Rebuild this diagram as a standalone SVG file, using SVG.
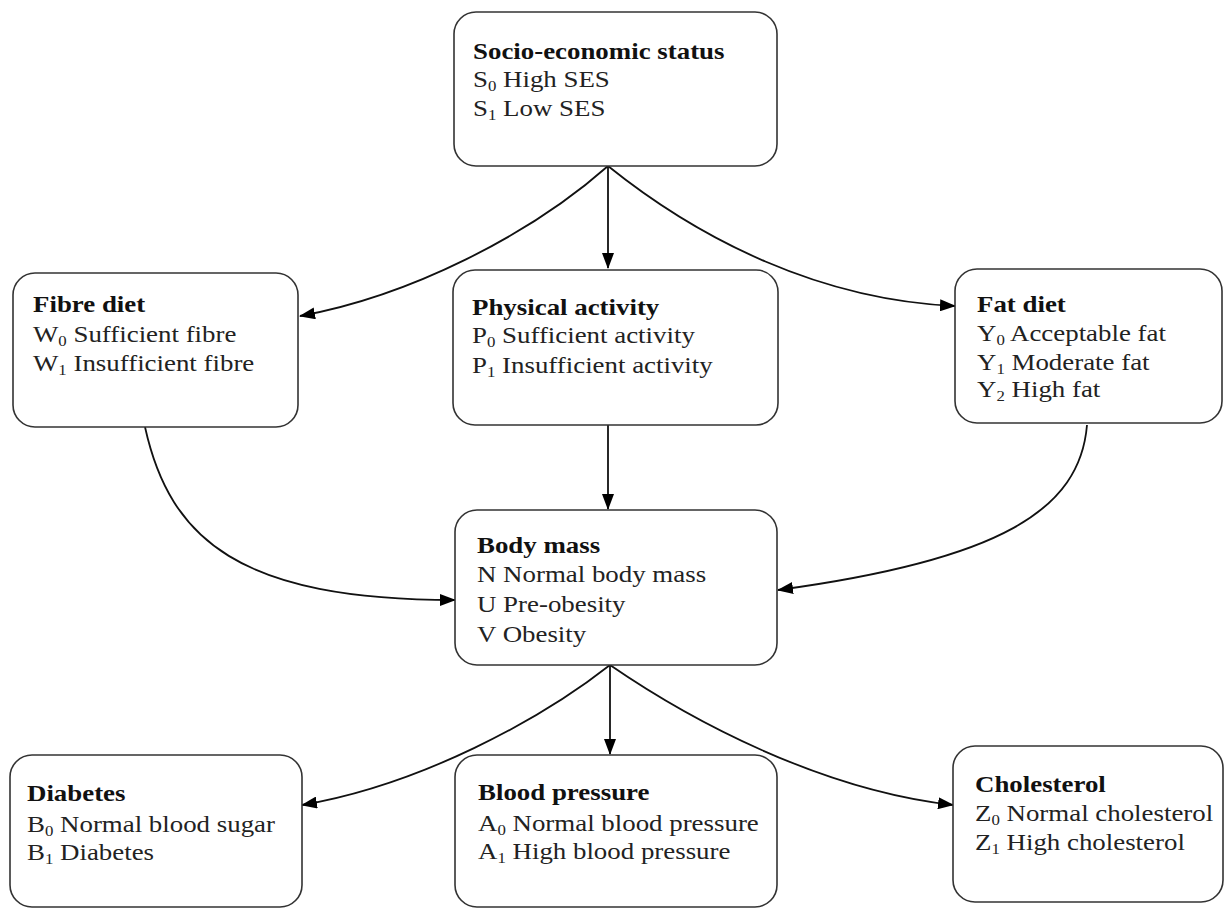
<svg xmlns="http://www.w3.org/2000/svg" width="1224" height="909" viewBox="0 0 1224 909">
<defs>
<marker id="ah" markerUnits="userSpaceOnUse" markerWidth="16" markerHeight="12" refX="15" refY="6" orient="auto">
<path d="M0,0 L16,6 L0,12 z" fill="#000"/>
</marker>
<style>
.box{fill:#fff;stroke:#333;stroke-width:1.6}
.t{font-family:"Liberation Serif","Times New Roman",serif;font-size:24px;fill:#222}
.h{font-weight:bold;fill:#111}
.sub{font-size:15px}
.c{fill:none;stroke:#111;stroke-width:1.8}
</style>
</defs>
<rect width="1224" height="909" fill="#fff"/>

<g id="connectors">
<path class="c" d="M608,166 L608,268" marker-end="url(#ah)"/>
<path class="c" d="M608,166 C530,235 410,296 300,316" marker-end="url(#ah)"/>
<path class="c" d="M608,166 C700,240 820,300 955,306" marker-end="url(#ah)"/>
<path class="c" d="M608,425 L608,509" marker-end="url(#ah)"/>
<path class="c" d="M145,427 C170,540 240,600 455,600" marker-end="url(#ah)"/>
<path class="c" d="M1087,425 C1080,510 1000,560 778,590" marker-end="url(#ah)"/>
<path class="c" d="M610,665 L610,754" marker-end="url(#ah)"/>
<path class="c" d="M610,665 C540,720 420,785 302,805" marker-end="url(#ah)"/>
<path class="c" d="M610,665 C690,720 820,790 953,805" marker-end="url(#ah)"/>
</g>

<g id="ses">
<rect class="box" x="454" y="12" width="323" height="154" rx="22"/>
<g transform="translate(473,0) scale(1.12,1)">
<text class="t h" x="0" y="59">Socio-economic status</text>
<text class="t" x="0" y="87">S<tspan class="sub" dy="4">0</tspan><tspan dy="-4"> High SES</tspan></text>
<text class="t" x="0" y="116">S<tspan class="sub" dy="4">1</tspan><tspan dy="-4"> Low SES</tspan></text>
</g>
</g>

<g id="fibre">
<rect class="box" x="13" y="273" width="285" height="154" rx="22"/>
<g transform="translate(33,0) scale(1.12,1)">
<text class="t h" x="0" y="312">Fibre diet</text>
<text class="t" x="0" y="342">W<tspan class="sub" dy="4">0</tspan><tspan dy="-4"> Sufficient fibre</tspan></text>
<text class="t" x="0" y="371">W<tspan class="sub" dy="4">1</tspan><tspan dy="-4"> Insufficient fibre</tspan></text>
</g>
</g>

<g id="activity">
<rect class="box" x="453" y="270" width="325" height="155" rx="22"/>
<g transform="translate(472,0) scale(1.12,1)">
<text class="t h" x="0" y="315">Physical activity</text>
<text class="t" x="0" y="343">P<tspan class="sub" dy="4">0</tspan><tspan dy="-4"> Sufficient activity</tspan></text>
<text class="t" x="0" y="373">P<tspan class="sub" dy="4">1</tspan><tspan dy="-4"> Insufficient activity</tspan></text>
</g>
</g>

<g id="fat">
<rect class="box" x="955" y="269" width="267" height="154" rx="22"/>
<g transform="translate(977,0) scale(1.12,1)">
<text class="t h" x="0" y="312">Fat diet</text>
<text class="t" x="0" y="341">Y<tspan class="sub" dy="4">0</tspan><tspan dy="-4"> Acceptable fat</tspan></text>
<text class="t" x="0" y="370">Y<tspan class="sub" dy="4">1</tspan><tspan dy="-4"> Moderate fat</tspan></text>
<text class="t" x="0" y="397">Y<tspan class="sub" dy="4">2</tspan><tspan dy="-4"> High fat</tspan></text>
</g>
</g>

<g id="bodymass">
<rect class="box" x="455" y="510" width="322" height="155" rx="22"/>
<g transform="translate(477,0) scale(1.12,1)">
<text class="t h" x="0" y="553">Body mass</text>
<text class="t" x="0" y="582">N Normal body mass</text>
<text class="t" x="0" y="612">U Pre-obesity</text>
<text class="t" x="0" y="642">V Obesity</text>
</g>
</g>

<g id="diabetes">
<rect class="box" x="10" y="755" width="292" height="152" rx="22"/>
<g transform="translate(27,0) scale(1.12,1)">
<text class="t h" x="0" y="801">Diabetes</text>
<text class="t" x="0" y="832">B<tspan class="sub" dy="4">0</tspan><tspan dy="-4"> Normal blood sugar</tspan></text>
<text class="t" x="0" y="860">B<tspan class="sub" dy="4">1</tspan><tspan dy="-4"> Diabetes</tspan></text>
</g>
</g>

<g id="bloodpressure">
<rect class="box" x="455" y="755" width="322" height="152" rx="22"/>
<g transform="translate(478,0) scale(1.12,1)">
<text class="t h" x="0" y="800">Blood pressure</text>
<text class="t" x="0" y="831">A<tspan class="sub" dy="4">0</tspan><tspan dy="-4"> Normal blood pressure</tspan></text>
<text class="t" x="0" y="859">A<tspan class="sub" dy="4">1</tspan><tspan dy="-4"> High blood pressure</tspan></text>
</g>
</g>

<g id="cholesterol">
<rect class="box" x="953" y="746" width="270" height="156" rx="22"/>
<g transform="translate(975,0) scale(1.12,1)">
<text class="t h" x="0" y="792">Cholesterol</text>
<text class="t" x="0" y="821">Z<tspan class="sub" dy="4">0</tspan><tspan dy="-4"> Normal cholesterol</tspan></text>
<text class="t" x="0" y="850">Z<tspan class="sub" dy="4">1</tspan><tspan dy="-4"> High cholesterol</tspan></text>
</g>
</g>
</svg>
